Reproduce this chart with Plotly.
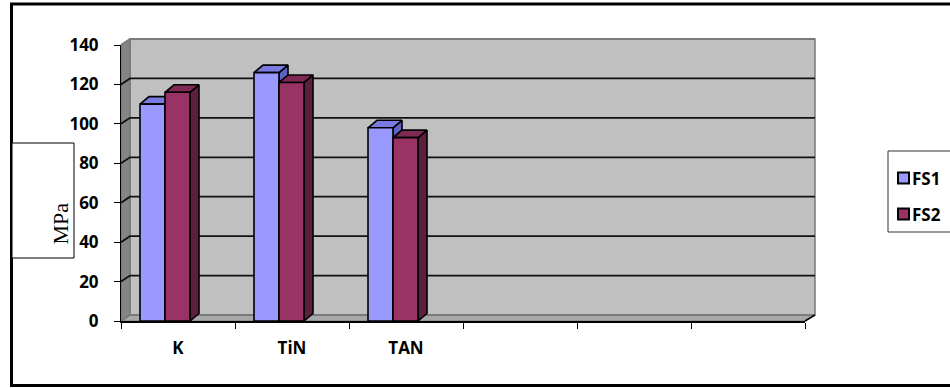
import plotly.graph_objects as go

# ---------------- data ----------------
categories = ["K", "TiN", "TAN"]
n_slots = 6                      # category slots on the axis (3 empty)
fs1 = [110, 126, 98]
fs2 = [116, 121, 93]
series_names = ["FS1", "FS2"]
y_ticks = [0, 20, 40, 60, 80, 100, 120, 140]

# ---------------- style / geometry ----------------
L, R, T, B = 121, 805, 45, 321          # plot area in pixels
W, H = R - L, B - T
YMAX = 140
SLOT = W / n_slots                      # pixels per category
BAR_W = 25 / SLOT
GROUP_OFF = -13 / SLOT
DX = 9 / SLOT                           # bar depth in x units
DY = 7.5 * YMAX / H                     # bar depth in y units
WDX, WDY = 9, 6                         # wall depth in px

front_cols = ["#9999FF", "#993366"]
top_cols = ["#7A7AE0", "#7E2A55"]
side_cols = ["#6262C4", "#5E1E3E"]

FONT = "Open Sans"
FS = 17


def px(x):
    return (x - L) / W


def py(y):
    return (B - y) / H


def ypix(v):
    return B - v / YMAX * H


fig = go.Figure()

# ---------------- bars (front, top, side faces) ----------------
for s, vals in enumerate([fs1, fs2]):
    fx, fy, tx, ty, sx, sy = [], [], [], [], [], []
    for i, v in enumerate(vals):
        x0 = i + GROUP_OFF - BAR_W + s * BAR_W
        x1 = x0 + BAR_W
        fx += [x0, x1, x1, x0, x0, None]
        fy += [0, 0, v, v, 0, None]
        tx += [x0, x1, x1 + DX, x0 + DX, x0, None]
        ty += [v, v, v + DY, v + DY, v, None]
        sx += [x1, x1 + DX, x1 + DX, x1, x1, None]
        sy += [0, DY, v + DY, v, 0, None]
    for xs, ys, col in [(sx, sy, side_cols[s]), (tx, ty, top_cols[s]), (fx, fy, front_cols[s])]:
        fig.add_trace(go.Scatter(
            x=xs, y=ys, mode="lines", fill="toself", fillcolor=col,
            line=dict(color="black", width=1.6), hoverinfo="skip",
            showlegend=False, name=series_names[s]))

shapes = []
# outer frame
shapes.append(dict(type="rect", xref="paper", yref="paper", layer="below",
                   x0=px(11.5), x1=px(975), y0=py(385.5), y1=py(4),
                   line=dict(color="black", width=3), fillcolor="white"))
# back wall
shapes.append(dict(type="rect", xref="paper", yref="paper", layer="below",
                   x0=px(L + WDX), x1=px(R + 10), y0=py(B - WDY), y1=py(T - WDY),
                   line=dict(color="#7a7a7a", width=1.5), fillcolor="#C0C0C0"))
# side wall
shapes.append(dict(type="path", xref="paper", yref="paper", layer="below",
                   path=f"M{px(L)},{py(B)} L{px(L)},{py(T)} L{px(L+WDX)},{py(T-WDY)} L{px(L+WDX)},{py(B-WDY)} Z",
                   line=dict(color="#6e6e6e", width=1), fillcolor="#858585"))
# floor
shapes.append(dict(type="path", xref="paper", yref="paper", layer="below",
                   path=f"M{px(L)},{py(B)} L{px(R)},{py(B)} L{px(R+10)},{py(B-WDY)} L{px(L+WDX)},{py(B-WDY)} Z",
                   line=dict(color="#7a7a7a", width=1), fillcolor="#A8A8A8"))
# gridlines on side + back wall
for v in y_ticks:
    yv = ypix(v)
    col = "#7a7a7a" if v in (0, YMAX) else "#111111"
    shapes.append(dict(type="path", xref="paper", yref="paper", layer="below",
                       path=f"M{px(L)},{py(yv)} L{px(L+WDX)},{py(yv-WDY)} L{px(R+10)},{py(yv-WDY)}",
                       line=dict(color=col, width=1.8)))
# right end of floor front edge
shapes.append(dict(type="line", xref="paper", yref="paper",
                   x0=px(R), y0=py(B), x1=px(R + 10), y1=py(B - WDY),
                   line=dict(color="black", width=1.5)))
# MPa box
shapes.append(dict(type="rect", xref="paper", yref="paper",
                   x0=px(12), x1=px(74), y0=py(258), y1=py(143),
                   line=dict(color="black", width=1), fillcolor="white"))
# legend box and keys
shapes.append(dict(type="rect", xref="paper", yref="paper",
                   x0=px(888), x1=px(975), y0=py(232), y1=py(151),
                   line=dict(color="#333333", width=1), fillcolor="white"))
annotations = [dict(text="MPa", xref="paper", yref="paper", x=px(45), y=py(224),
                    textangle=-90, showarrow=False,
                    font=dict(family="Liberation Serif", size=22, color="black"))]
for s, yc in enumerate([178, 214]):
    shapes.append(dict(type="rect", xref="paper", yref="paper",
                       x0=px(898), x1=px(909), y0=py(yc + 5.5), y1=py(yc - 5.5),
                       line=dict(color="black", width=2), fillcolor=front_cols[s]))
    annotations.append(dict(text=series_names[s], xref="paper", yref="paper",
                            x=px(910), y=py(yc), xanchor="left", yanchor="middle",
                            showarrow=False,
                            font=dict(family=FONT, size=FS, color="black", weight="bold")))

fig.update_layout(
    width=950, height=388, autosize=False,
    margin=dict(l=L, r=950 - R, t=T, b=388 - B, pad=0),
    paper_bgcolor="white", plot_bgcolor="rgba(0,0,0,0)",
    showlegend=False, shapes=shapes, annotations=annotations,
    xaxis=dict(range=[-0.5, n_slots - 0.5], tickmode="array",
               tickvals=list(range(len(categories))), ticktext=categories,
               ticks="", showgrid=False, zeroline=False,
               showline=True, linecolor="black", linewidth=1.5,
               ticklabelstandoff=11,
               tickfont=dict(family=FONT, size=FS, color="black", weight="bold"),
               minor=dict(tick0=-0.5, dtick=1, ticks="outside", ticklen=6,
                          tickcolor="black", tickwidth=1, showgrid=False),
               fixedrange=True),
    yaxis=dict(range=[0, YMAX], tickmode="array", tickvals=y_ticks,
               ticks="outside", ticklen=6, tickcolor="black", tickwidth=1,
               showgrid=False, zeroline=False,
               showline=True, linecolor="black", linewidth=1,
               ticklabelstandoff=12,
               tickfont=dict(family=FONT, size=FS, color="black", weight="bold"),
               fixedrange=True),
)

fig.write_html("out.html")
